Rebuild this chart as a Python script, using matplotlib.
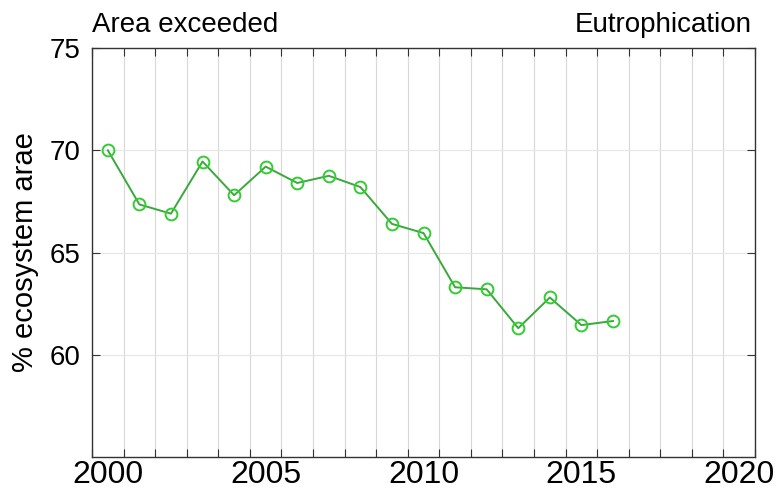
import matplotlib
matplotlib.use("Agg")
import matplotlib.pyplot as plt
import numpy as np

plt.rcParams['font.family'] = ['Liberation Sans', 'DejaVu Sans']

years = [2000, 2001, 2002, 2003, 2004, 2005, 2006, 2007, 2008,
         2009, 2010, 2011, 2012, 2013, 2014, 2015, 2016]
area_exceeded = [70.0, 67.35, 66.9, 69.45, 67.8, 69.2, 68.4, 68.75, 68.2,
                 66.4, 65.95, 63.3, 63.2, 61.3, 62.8, 61.45, 61.65]
xtick_labels = [2000, 2005, 2010, 2015, 2020]
ytick_values = [60, 65, 70, 75]

fig = plt.figure(figsize=(7.76, 4.94), dpi=100)
ax = fig.add_axes([0.1186, 0.0749, 0.8544, 0.8279])

ax.plot(years, area_exceeded, color='#3aa83a', lw=1.4, marker='o',
        markersize=8.5, markerfacecolor='none', markeredgecolor='#33cc33',
        markeredgewidth=1.4, zorder=3)

ax.set_xlim(1999.5, 2020.5)
ax.set_ylim(55, 75)

ax.set_xticks(xtick_labels)
ax.set_xticklabels([str(v) for v in xtick_labels], fontsize=23)
ax.set_xticks(np.arange(1999.5, 2021.0, 1.0), minor=True)
ax.set_yticks(ytick_values)
ax.set_yticklabels([str(v) for v in ytick_values], fontsize=20)

ax.tick_params(axis='x', which='major', length=0, pad=2)
ax.tick_params(axis='x', which='minor', direction='in', length=6, width=0.8,
               top=True, bottom=True, color='#333333')
ax.tick_params(axis='y', which='major', direction='in', length=6, width=0.8,
               left=True, right=True, color='#333333', pad=8)

ax.grid(True, axis='x', which='minor', color='#d8d8d8', lw=0.8)
ax.grid(True, axis='y', which='major', color='#e6e6e6', lw=0.8)

for s in ax.spines.values():
    s.set_color('#333333')
    s.set_linewidth(1.0)

ax.set_ylabel('% ecosystem arae', fontsize=21, labelpad=8)
ax.text(0.0, 1.025, 'Area exceeded', transform=ax.transAxes, fontsize=20,
        ha='left', va='bottom')
ax.text(0.995, 1.025, 'Eutrophication', transform=ax.transAxes, fontsize=20,
        ha='right', va='bottom')

fig.savefig('out.png', dpi=100)
